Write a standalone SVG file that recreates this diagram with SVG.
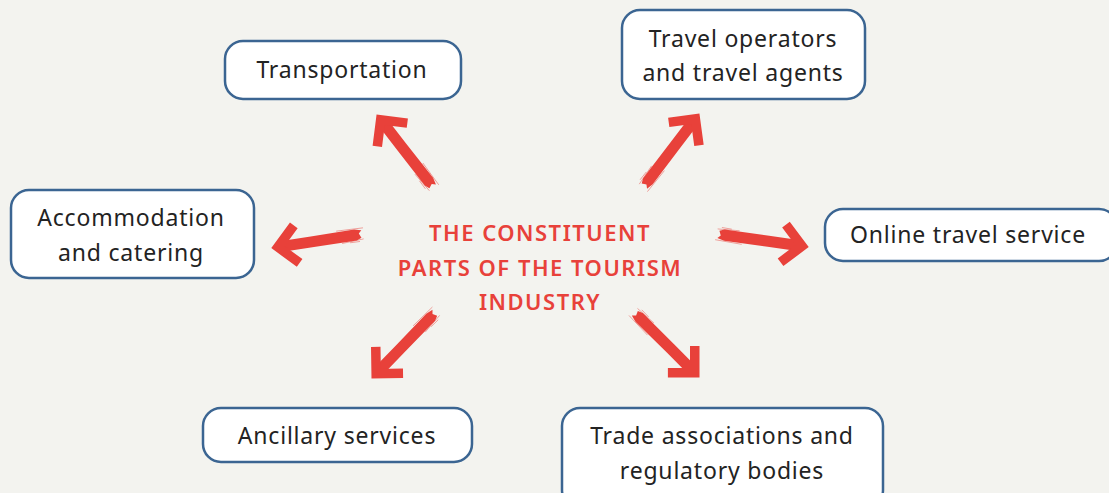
<svg xmlns="http://www.w3.org/2000/svg" xmlns:xlink="http://www.w3.org/1999/xlink" width="1109" height="493" viewBox="0 0 1109 493">
  <style>
    .node rect { fill: #ffffff; stroke: #3b6592; stroke-width: 2.5; }
    .node text { font-family: "Noto Sans", "Open Sans", "Liberation Sans", sans-serif; font-size: 23px; fill: #232323; text-anchor: middle; letter-spacing: 0.8px; }
    .title { font-family: "Noto Sans", "Open Sans", "Liberation Sans", sans-serif; font-size: 22px; font-weight: 600; fill: #e8413a; text-anchor: middle; letter-spacing: 1.5px; }
  </style>
  <defs>
    <!-- brush-stroke arrow: tip at the origin, pointing along +x -->
    <g id="brush-arrow">
      <path d="M-90,-3.5 L-85,-5.5 L-40,-5.5 L-12,-5.5 L-12,5.5 L-40,5.5 L-84,5.8 L-91,4 L-88,1 Z" fill="#e8413a"/>
      <path d="M-92,-5 L-70,-6.3 M-93,6 L-66,6.8 M-88,-7 L-78,-6.8" stroke="#e8413a" stroke-width="0.8" opacity="0.55" fill="none"/>
      <path d="M-25,-19 L-6,0 L-25,19" fill="none" stroke="#e8413a" stroke-width="9.5" stroke-linejoin="miter" stroke-miterlimit="4"/>
    </g>
  </defs>

  <rect width="1109" height="493" fill="#f3f3ef"/>

  <g id="connectors">
    <use xlink:href="#brush-arrow" transform="translate(377,115) rotate(-127.8)"/>
    <use xlink:href="#brush-arrow" transform="translate(699,114) rotate(-52.7)"/>
    <use xlink:href="#brush-arrow" transform="translate(272,248) rotate(171.2)"/>
    <use xlink:href="#brush-arrow" transform="translate(808,247) rotate(8.2)"/>
    <use xlink:href="#brush-arrow" transform="translate(372,378) rotate(134.1)"/>
    <use xlink:href="#brush-arrow" transform="translate(699,377) rotate(45)"/>
  </g>

  <g id="centre">
    <text class="title" x="540" y="241">THE CONSTITUENT</text>
    <text class="title" x="540" y="276">PARTS OF THE TOURISM</text>
    <text class="title" x="540" y="310">INDUSTRY</text>
  </g>

  <g id="transportation" class="node">
    <rect x="225" y="41" width="236" height="58" rx="18"/>
    <text x="342" y="78">Transportation</text>
  </g>

  <g id="travel-operators" class="node">
    <rect x="622" y="10" width="243" height="89" rx="18"/>
    <text x="743" y="47">Travel operators</text>
    <text x="743" y="81">and travel agents</text>
  </g>

  <g id="accommodation" class="node">
    <rect x="11" y="190" width="243" height="88" rx="18"/>
    <text x="131" y="226">Accommodation</text>
    <text x="131" y="261">and catering</text>
  </g>

  <g id="online-travel" class="node">
    <rect x="825" y="209" width="292" height="52" rx="18"/>
    <text x="968" y="243">Online travel service</text>
  </g>

  <g id="ancillary" class="node">
    <rect x="203" y="408" width="269" height="54" rx="18"/>
    <text x="337" y="444">Ancillary services</text>
  </g>

  <g id="trade-associations" class="node">
    <rect x="562" y="408" width="321" height="100" rx="18"/>
    <text x="722" y="444">Trade associations and</text>
    <text x="722" y="479">regulatory bodies</text>
  </g>
</svg>
